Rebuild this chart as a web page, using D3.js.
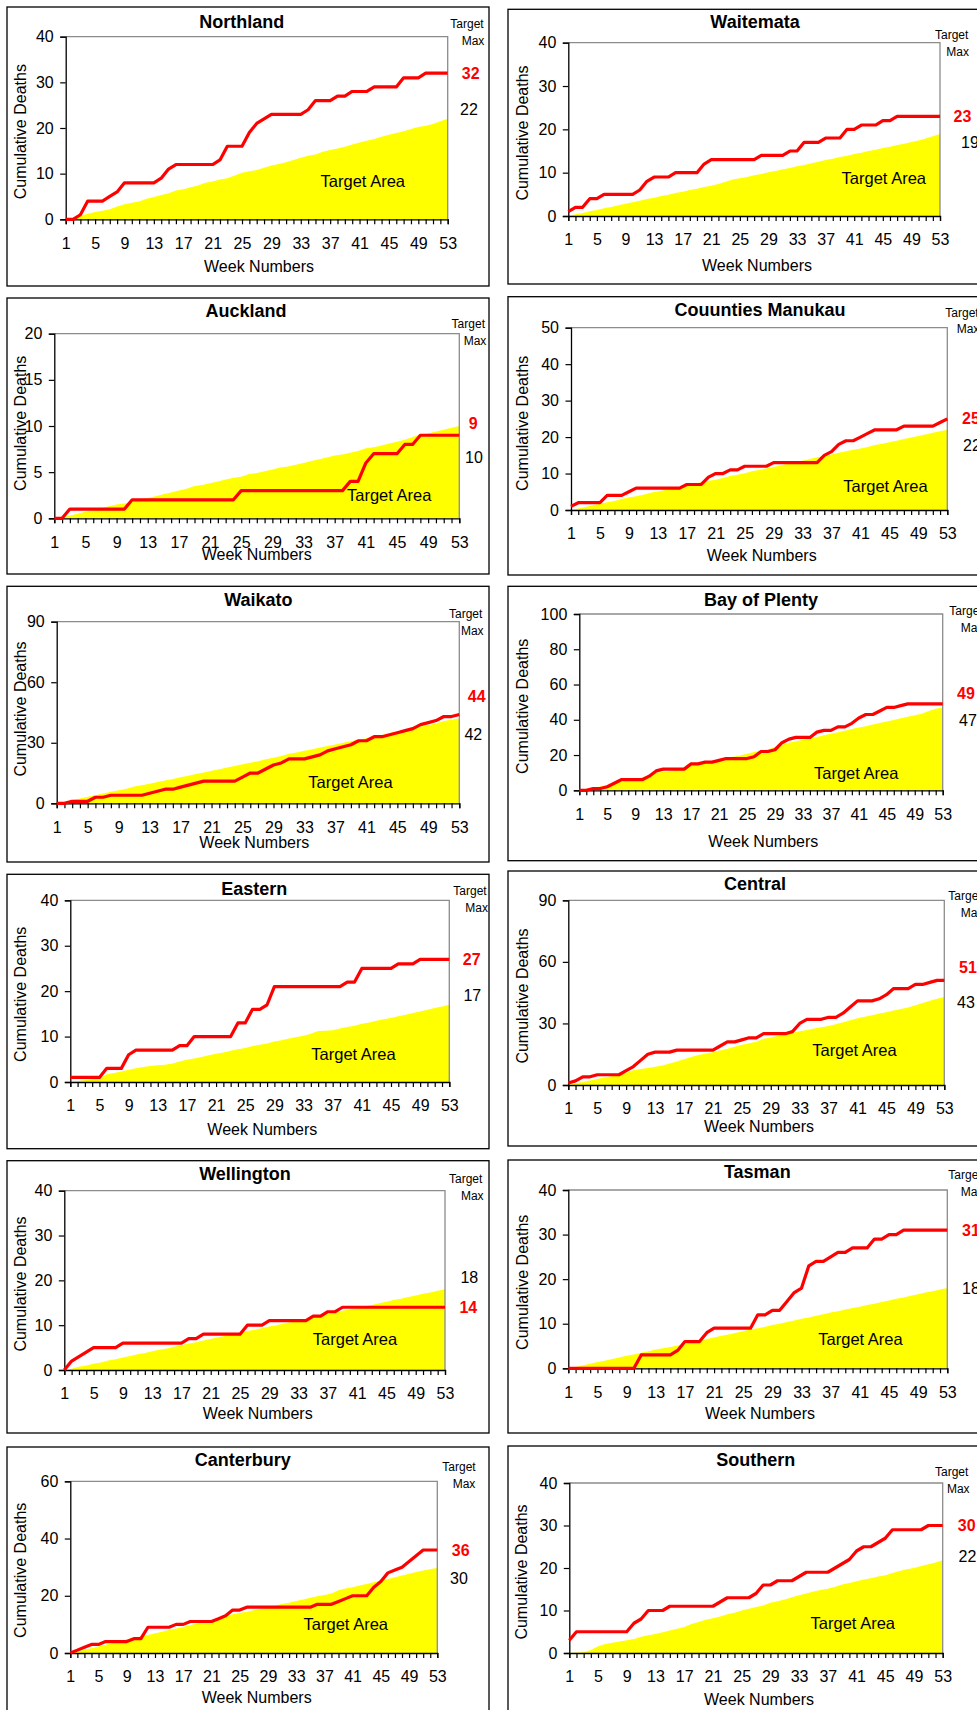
<!DOCTYPE html>
<html><head><meta charset="utf-8">
<script src="https://cdn.jsdelivr.net/npm/d3@7"></script>
<style>html,body{margin:0;padding:0;background:#fff;overflow:hidden}</style>
</head><body><svg id="c" width="977" height="1710"></svg>
<script>
// ---------- DATA ----------
const weeks = [1,2,3,4,5,6,7,8,9,10,11,12,13,14,15,16,17,18,19,20,21,22,23,24,25,26,27,28,29,30,31,32,33,34,35,36,37,38,39,40,41,42,43,44,45,46,47,48,49,50,51,52,53];
const xTickLabels = [1,5,9,13,17,21,25,29,33,37,41,45,49,53];
const regions = ["Northland","Waitemata","Auckland","Couunties Manukau","Waikato","Bay of Plenty","Eastern","Central","Wellington","Tasman","Canterbury","Southern"];
const yTickSets = [[0,10,20,30,40],[0,10,20,30,40],[0,5,10,15,20],[0,10,20,30,40,50],[0,30,60,90],[0,20,40,60,80,100],[0,10,20,30,40],[0,30,60,90],[0,10,20,30,40],[0,10,20,30,40],[0,20,40,60],[0,10,20,30,40]];

const actualNorthland = [0,0,1,4,4,4,5,6,8,8, 8,8,8,9,11,12,12,12,12,12, 12,13,16,16,16,19,21,22,23,23, 23,23,23,24,26,26,26,27,27,28, 28,28,29,29,29,29,31,31,31,32, 32,32,32];
const targetNorthland = [0,0.2,0.8,1.2,1.6,1.9,2.2,2.8,3.3,3.6, 3.9,4.5,4.9,5.3,5.7,6.3,6.6,7.0,7.4,8.0, 8.3,8.7,9.0,9.6,10.2,10.5,10.8,11.3,11.8,12.1, 12.5,13.0,13.5,13.9,14.2,14.8,15.2,15.5,15.9,16.4, 16.8,17.2,17.6,18.1,18.5,18.9,19.3,19.8,20.2,20.5, 20.9,21.5,22.0];

const actualWaitemata = [1,2,2,4,4,5,5,5,5,5, 6,8,9,9,9,10,10,10,10,12, 13,13,13,13,13,13,13,14,14,14, 14,15,15,17,17,17,18,18,18,20, 20,21,21,21,22,22,23,23,23,23, 23,23,23];
const targetWaitemata = [0,0.4,0.7,1.1,1.4,1.8,2.1,2.5,2.8,3.2, 3.5,3.9,4.2,4.6,4.9,5.3,5.6,6.0,6.3,6.7, 7.0,7.4,7.9,8.4,8.7,9.0,9.4,9.7,10.1,10.4, 10.8,11.1,11.5,11.8,12.2,12.5,12.9,13.2,13.6,13.9, 14.3,14.6,15.0,15.3,15.7,16.0,16.4,16.7,17.1,17.4, 17.9,18.4,18.9];

const actualAuckland = [0,0,1,1,1,1,1,1,1,1, 2,2,2,2,2,2,2,2,2,2, 2,2,2,2,3,3,3,3,3,3, 3,3,3,3,3,3,3,3,4,4, 6,7,7,7,7,8,8,9,9,9, 9,9,9];
const targetAuckland = [0,0.1,0.3,0.5,0.7,0.9,1.1,1.3,1.5,1.6, 1.8,2.0,2.2,2.4,2.6,2.8,3.0,3.2,3.5,3.6, 3.8,4.0,4.2,4.4,4.5,4.8,4.9,5.1,5.3,5.5, 5.6,5.8,6.0,6.2,6.4,6.6,6.8,6.9,7.1,7.3, 7.6,7.7,7.9,8.1,8.3,8.5,8.8,9.1,9.2,9.4, 9.6,9.8,10.0];

const actualCounties = [1,2,2,2,2,4,4,4,5,6, 6,6,6,6,6,6,7,7,7,9, 10,10,11,11,12,12,12,12,13,13, 13,13,13,13,13,15,16,18,19,19, 20,21,22,22,22,22,23,23,23,23, 23,24,25];
const targetCounties = [0,0.4,0.8,1.3,1.7,2.1,2.5,3.0,3.4,3.8, 4.2,4.7,5.1,5.5,5.9,6.3,6.8,7.2,7.6,8.0, 8.3,8.8,9.3,9.7,10.1,10.6,11.0,11.4,11.8,12.3, 12.7,13.1,13.5,14.0,14.5,14.8,15.2,15.7,16.1,16.5, 16.9,17.3,17.8,18.2,18.6,19.0,19.5,19.9,20.3,20.7, 21.2,21.6,22.0];

const actualWaikato = [0,0,1,1,1,3,3,4,4,4, 4,4,5,6,7,7,8,9,10,11, 11,11,11,11,13,15,15,17,19,20, 22,22,22,23,24,26,27,28,29,31, 31,33,33,34,35,36,37,39,40,41, 43,43,44];
const targetWaikato = [0,0.8,1.6,2.4,3.2,4.0,4.8,5.7,6.5,7.2, 8.3,8.9,9.7,10.5,11.3,12.1,12.9,13.7,14.5,15.3, 16.1,16.9,17.7,18.5,19.3,20.1,20.9,21.8,22.6,23.4, 24.6,25.2,26.0,26.8,27.6,28.4,29.2,30.0,30.8,31.6, 32.3,33.1,33.9,34.8,35.6,36.4,37.4,38.0,38.8,39.6, 40.8,41.4,42.0];

const actualBayOfPlenty = [0,0,1,1,2,4,6,6,6,6, 8,11,12,12,12,12,15,15,16,16, 17,18,18,18,18,19,22,22,23,27, 29,30,30,30,33,34,34,36,36,38, 41,43,43,45,47,47,48,49,49,49, 49,49,49];
const targetBayOfPlenty = [0,0.9,1.5,2.2,2.8,3.8,4.8,5.6,6.4,7.3, 8.6,9.9,10.5,11.0,11.8,12.7,13.8,14.8,15.5,16.3, 17.2,18.2,19.0,19.8,20.7,21.7,22.5,23.3,24.5,25.9, 27.0,27.8,28.6,29.5,30.3,31.2,32.1,32.9,33.8,34.7, 35.6,36.4,37.3,38.2,39.0,39.9,40.8,41.7,42.5,43.4, 45.0,46.2,47.0];

const actualEastern = [1,1,1,1,1,3,3,3,6,7, 7,7,7,7,7,8,8,10,10,10, 10,10,10,13,13,16,16,17,21,21, 21,21,21,21,21,21,21,21,22,22, 25,25,25,25,25,26,26,26,27,27, 27,27,27];
const targetEastern = [0,0.2,0.4,0.6,0.8,1.7,2.0,2.3,2.7,3.0, 3.3,3.5,3.7,3.8,4.1,4.5,4.9,5.2,5.5,5.9, 6.2,6.5,6.9,7.2,7.5,7.9,8.2,8.5,8.9,9.2, 9.6,9.9,10.2,10.6,11.2,11.3,11.4,11.8,12.1,12.4, 12.8,13.1,13.5,13.8,14.1,14.5,14.8,15.2,15.5,15.9, 16.3,16.6,17.0];

const actualCentral = [1,2,4,4,5,5,5,5,7,9, 12,15,16,16,16,17,17,17,17,17, 17,19,21,21,22,23,23,25,25,25, 25,26,30,32,32,32,33,33,35,38, 41,41,41,42,44,47,47,47,49,49, 50,51,51];
const targetCentral = [0,0.8,1.5,2.2,2.9,3.6,4.3,5.0,6.0,7.2, 7.8,8.3,8.9,9.5,10.5,11.4,12.6,13.6,14.6,15.4, 16.0,16.8,17.7,18.6,19.6,20.3,21.1,22.5,23.2,24.0, 24.7,25.4,26.2,26.8,27.5,28.1,28.7,29.6,30.6,31.6, 32.5,33.2,34.0,34.8,35.5,36.3,37.0,37.8,38.8,40.0, 41.0,42.0,42.9];

const actualWellington = [0,2,3,4,5,5,5,5,6,6, 6,6,6,6,6,6,6,7,7,8, 8,8,8,8,8,10,10,10,11,11, 11,11,11,11,12,12,13,13,14,14, 14,14,14,14,14,14,14,14,14,14, 14,14,14];
const targetWellington = [0,0.3,0.7,1.0,1.4,1.7,2.1,2.4,2.8,3.1, 3.5,3.8,4.2,4.5,4.8,5.2,5.5,5.9,6.2,6.6, 6.9,7.3,7.6,8.0,8.3,8.7,9.0,9.3,9.7,10.0, 10.4,10.7,11.1,11.4,11.8,12.1,12.5,12.8,13.2,13.5, 13.8,14.2,14.5,14.9,15.2,15.6,15.9,16.3,16.6,17.0, 17.3,17.7,18.0];

const actualTasman = [0,0,0,0,0,0,0,0,0,0, 3,3,3,3,3,4,6,6,6,8, 9,9,9,9,9,9,12,12,13,13, 15,17,18,23,24,24,25,26,26,27, 27,27,29,29,30,30,31,31,31,31, 31,31,31];
const targetTasman = [0,0.3,0.7,1.0,1.4,1.7,2.1,2.4,2.8,3.1, 3.5,3.8,4.2,4.5,4.8,5.1,5.4,5.8,6.2,6.6, 6.9,7.3,7.6,8.0,8.3,8.7,9.0,9.3,9.7,10.0, 10.4,10.7,11.1,11.4,11.8,12.1,12.5,12.8,13.2,13.5, 13.8,14.2,14.5,14.9,15.2,15.6,15.9,16.3,16.6,17.0, 17.3,17.7,18.0];

const actualCanterbury = [0,1,2,3,3,4,4,4,4,5, 5,9,9,9,9,10,10,11,11,11, 11,12,13,15,15,16,16,16,16,16, 16,16,16,16,16,17,17,17,18,19, 20,20,20,23,25,28,29,30,32,34, 36,36,36];
const targetCanterbury = [0,0.6,1.1,1.7,2.3,2.9,3.4,4.0,4.8,5.3, 5.8,6.3,6.9,7.4,8.0,8.6,9.1,9.7,10.3,10.9, 11.5,12.1,12.8,13.5,14.0,14.4,14.9,15.4,15.9,16.5, 17.1,17.6,18.2,18.7,19.3,19.8,20.3,20.8,21.9,22.5, 23.0,23.6,24.1,24.7,25.3,25.9,26.5,27.1,27.7,28.3, 28.8,29.3,29.8];

const actualSouthern = [3,5,5,5,5,5,5,5,5,7, 8,10,10,10,11,11,11,11,11,11, 11,12,13,13,13,13,14,16,16,17, 17,17,18,19,19,19,19,20,21,22, 24,25,25,26,27,29,29,29,29,29, 30,30,30];
const targetSouthern = [0,0.1,0.2,0.7,1.6,2.1,2.4,2.7,3.0,3.3, 3.8,4.2,4.5,4.9,5.3,5.7,6.1,6.8,7.3,7.8, 8.2,8.6,9.1,9.5,10.0,10.4,10.8,11.2,11.8,12.2, 12.6,13.1,13.6,14.0,14.5,14.8,15.1,15.6,16.1,16.5, 16.9,17.3,17.6,18.0,18.3,18.8,19.3,19.7,20.0,20.5, 20.9,21.3,21.8];

const actualSeries = [actualNorthland,actualWaitemata,actualAuckland,actualCounties,actualWaikato,actualBayOfPlenty,actualEastern,actualCentral,actualWellington,actualTasman,actualCanterbury,actualSouthern];
const targetSeries = [targetNorthland,targetWaitemata,targetAuckland,targetCounties,targetWaikato,targetBayOfPlenty,targetEastern,targetCentral,targetWellington,targetTasman,targetCanterbury,targetSouthern];

// ---------- LAYOUT ----------
const layout = [
 {box:[7,7,489,286], plot:[65.7,36.7,447.7,219.3], title:[241.7,21.7], xt:[259,266], yt:[20.7,131.7], tgt:[467,24], mx:[473,40.7], lx:[470.7,469], nudge:[0,-9], area:[362.8,181.7]},
 {box:[508,9.3,1000,284], plot:[568.3,42.7,940,216], title:[755,21.7], xt:[757,265], yt:[522,133], tgt:[951.7,35], mx:[957.7,51.7], lx:[962.5,970], nudge:[0,8], area:[883.8,178.3]},
 {box:[7,298,489,574], plot:[54.3,333.7,459.3,518.3], title:[246,310.7], xt:[256.7,554.3], yt:[20.7,423.3], tgt:[468.3,324], mx:[475,341], lx:[473.3,474], nudge:[-12,31], area:[389.2,495]},
 {box:[508,296.7,1000,575], plot:[571,327.7,947.3,510], title:[760,310], xt:[761.7,555.7], yt:[522.3,423.3], tgt:[962,312.3], mx:[968,329], lx:[971,972], nudge:[0,16], area:[885.5,486]},
 {box:[7,586.3,489,862], plot:[56.7,621.7,459.3,803.3], title:[258.3,599.7], xt:[254.3,842], yt:[20.7,709], tgt:[465.7,613.7], mx:[472.3,630.3], lx:[476.7,473.3], nudge:[-18,16], area:[350.5,782]},
 {box:[508,586.3,1000,860.7], plot:[579.3,614,942.7,790.3], title:[761,600], xt:[763.3,841.3], yt:[522.3,706.3], tgt:[966,610.7], mx:[972,627.3], lx:[966,968], nudge:[-11,13], area:[856.2,773]},
 {box:[7,874.3,489,1148.7], plot:[70.3,900.3,449.3,1082], title:[254.3,888.7], xt:[262.3,1129.3], yt:[20.7,994.3], tgt:[470,891], mx:[476.7,907.7], lx:[471.7,472.3], nudge:[0,-9], area:[353.5,1054.3]},
 {box:[508,871,1000,1146], plot:[568.3,900.3,944.3,1085], title:[755,883.3], xt:[759,1126.7], yt:[522.3,996], tgt:[965,896], mx:[972,912.7], lx:[968,966], nudge:[-13,5], area:[854.5,1050]},
 {box:[7,1160.7,489,1433], plot:[64.3,1190.7,445,1370], title:[245,1174], xt:[257.7,1413.3], yt:[20.7,1284], tgt:[465.7,1179], mx:[472.3,1195.7], lx:[468.3,469.3], nudge:[0,-12], area:[355,1339]},
 {box:[508,1160,1000,1433], plot:[568.3,1190,947.3,1368.3], title:[757.3,1171.3], xt:[760,1413.3], yt:[522.3,1282.3], tgt:[965,1174.7], mx:[972,1191.3], lx:[971,971], nudge:[0,0], area:[860.5,1339]},
 {box:[7,1447,489,1725], plot:[70.3,1481.3,437.3,1653], title:[242.7,1459.3], xt:[256.7,1697], yt:[20.7,1570.3], tgt:[459,1467], mx:[464,1483.7], lx:[460.7,459], nudge:[0,11], area:[345.8,1624.3]},
 {box:[508,1446,1000,1725], plot:[569.3,1483,942.7,1653], title:[755.7,1459.3], xt:[759,1699.3], yt:[521.7,1572], tgt:[951.7,1472], mx:[958.3,1488.7], lx:[966.7,967.5], nudge:[0,-4], area:[852.8,1623.7]}
];

const FONT = "'Liberation Sans', Arial, Helvetica, sans-serif";
const svg = d3.select("#c");
svg.append("rect").attr("width",977).attr("height",1710).attr("fill","#fff");

regions.forEach((name, i) => {
  const L = layout[i];
  const [l,t,r,b] = L.plot;
  const ticks = yTickSets[i];
  const act = actualSeries[i], tgt = targetSeries[i];
  const g = svg.append("g").attr("font-family", FONT);

  // panel border
  g.append("rect").attr("x",L.box[0]).attr("y",L.box[1])
    .attr("width",L.box[2]-L.box[0]).attr("height",L.box[3]-L.box[1])
    .attr("fill","#fff").attr("stroke","#000").attr("stroke-width",1.3);

  const x = d3.scaleLinear().domain([weeks[0], weeks[weeks.length-1]]).range([l, r]);
  const y = d3.scaleLinear().domain([0, ticks[ticks.length-1]]).range([b, t]);

  // target area
  const area = d3.area().x((d,k)=>x(weeks[k])).y0(y(0)).y1(d=>y(d));
  g.append("path").datum(tgt).attr("d",area).attr("fill","#ffff00");

  // grey top/right frame
  g.append("path").attr("d",`M${l},${t}H${r}V${b}`).attr("fill","none").attr("stroke","#8c8c8c").attr("stroke-width",1.3);

  // y axis
  const ya = d3.axisLeft(y).tickValues(ticks).tickSize(5.5).tickPadding(6.5).tickFormat(d3.format("d"));
  const yg = g.append("g").attr("transform",`translate(${l},0)`).call(ya);
  yg.select(".domain").attr("stroke","#000").attr("stroke-width",1.3);
  yg.selectAll(".tick line").attr("stroke","#000").attr("stroke-width",1.2);
  yg.selectAll(".tick text").attr("font-size",16).attr("font-family",FONT).attr("fill","#000");

  // x axis: tick each week, labels every 4
  const xa = d3.axisBottom(x).tickValues(weeks).tickSize(5).tickPadding(13)
     .tickFormat(d => xTickLabels.includes(d) ? String(d) : "");
  const xg = g.append("g").attr("transform",`translate(0,${b})`).call(xa);
  xg.select(".domain").attr("stroke","#000").attr("stroke-width",1.3);
  xg.selectAll(".tick line").attr("stroke","#000").attr("stroke-width",1.2);
  xg.selectAll(".tick text").attr("font-size",16).attr("font-family",FONT).attr("fill","#000");

  // actual line
  const line = d3.line().x((d,k)=>x(weeks[k])).y(d=>y(d));
  g.append("path").datum(act).attr("d",line).attr("fill","none")
    .attr("stroke","#ff0000").attr("stroke-width",3.2).attr("stroke-linejoin","round");

  // texts
  const txt = (xx,yy,s,size,opts={}) => g.append("text").attr("x",xx).attr("y",yy).attr("dy","0.35em")
      .attr("text-anchor",opts.anchor||"middle").attr("font-size",size)
      .attr("font-weight",opts.bold?"bold":"normal").attr("fill",opts.fill||"#000").text(s);

  txt(L.title[0], L.title[1], name, 18, {bold:true});
  txt(L.xt[0], L.xt[1], "Week Numbers", 16);
  g.append("text").attr("transform",`translate(${L.yt[0]},${L.yt[1]}) rotate(-90)`).attr("dy","0.35em")
    .attr("text-anchor","middle").attr("font-size",16).attr("fill","#000").text("Cumulative Deaths");
  txt(L.tgt[0], L.tgt[1], "Target", 12);
  txt(L.mx[0], L.mx[1], "Max", 12);
  txt(L.area[0], L.area[1], "Target Area", 16.5);

  const lastA = act[act.length-1], lastT = tgt[tgt.length-1];
  txt(L.lx[0], y(lastA) + L.nudge[0], d3.format(".0f")(lastA), 16, {bold:true, fill:"#ff0000"});
  txt(L.lx[1], y(lastT) + L.nudge[1], d3.format(".0f")(lastT), 16);
});
</script></body></html>
